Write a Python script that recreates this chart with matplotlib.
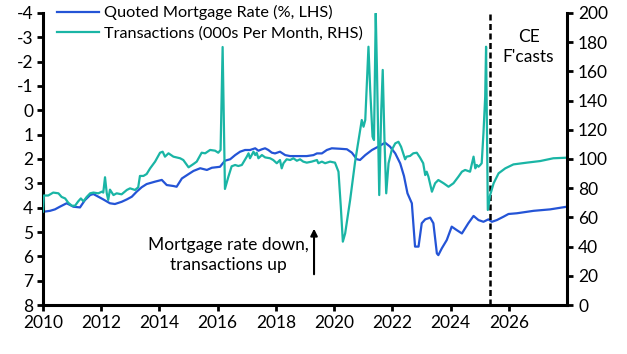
import matplotlib
matplotlib.use("Agg")
import matplotlib.pyplot as plt

plt.rcParams['font.family'] = ['Lato', 'DejaVu Sans']
plt.rcParams['font.size'] = 12.5
plt.rcParams['axes.unicode_minus'] = False

# quoted mortgage rate, % (LHS, inverted)
rate_x = [2010.0, 2010.24, 2010.41, 2010.58, 2010.81, 2010.93, 2011.04, 2011.27, 2011.44, 2011.62,
          2011.73, 2011.90, 2012.07, 2012.30, 2012.47, 2012.70, 2012.88, 2013.05, 2013.22, 2013.39,
          2013.56, 2013.85, 2014.08, 2014.25, 2014.48, 2014.59, 2014.77, 2015.0, 2015.17, 2015.40,
          2015.63, 2015.80, 2016.08, 2016.25, 2016.43, 2016.60, 2016.77, 2016.94, 2017.11, 2017.29,
          2017.40, 2017.52, 2017.63, 2017.74, 2017.86, 2017.97, 2018.14, 2018.32, 2018.49, 2018.83,
          2019.06, 2019.29, 2019.41, 2019.58, 2019.75, 2019.92, 2020.21, 2020.44, 2020.61, 2020.78,
          2020.89, 2021.07, 2021.30, 2021.52, 2021.75, 2021.92, 2022.10, 2022.27, 2022.40, 2022.52,
          2022.67, 2022.78, 2022.90, 2023.01, 2023.13, 2023.30, 2023.41, 2023.53, 2023.58, 2023.70,
          2023.87, 2024.04, 2024.21, 2024.39, 2024.50, 2024.61, 2024.79, 2024.96, 2025.13, 2025.30,
          2025.42, 2025.59, 2025.82, 2025.99, 2026.28, 2026.85, 2027.42, 2028.0]
rate = [4.17, 4.13, 4.07, 3.96, 3.82, 3.89, 3.96, 3.99, 3.69, 3.48,
        3.44, 3.55, 3.66, 3.82, 3.85, 3.76, 3.66, 3.55, 3.34, 3.16,
        3.03, 2.93, 2.86, 3.07, 3.11, 3.14, 2.80, 2.62, 2.49, 2.38,
        2.45, 2.36, 2.32, 2.07, 2.01, 1.84, 1.70, 1.63, 1.63, 1.56,
        1.66, 1.60, 1.56, 1.63, 1.74, 1.77, 1.70, 1.84, 1.88, 1.88,
        1.88, 1.84, 1.77, 1.77, 1.63, 1.56, 1.58, 1.60, 1.74, 2.01,
        2.04, 1.84, 1.63, 1.49, 1.33, 1.49, 1.77, 2.18, 2.70, 3.41,
        3.82, 5.60, 5.60, 4.64, 4.48, 4.41, 4.64, 5.88, 5.95, 5.67,
        5.33, 4.78, 4.92, 5.06, 4.85, 4.64, 4.34, 4.51, 4.58, 4.48,
        4.58, 4.51, 4.37, 4.26, 4.23, 4.13, 4.07, 3.96]

# transactions, 000s per month (RHS)
trans_x = [2010.0, 2010.03, 2010.18, 2010.35, 2010.53, 2010.64, 2010.76, 2010.87, 2010.99, 2011.10,
           2011.21, 2011.30, 2011.39, 2011.50, 2011.62, 2011.73, 2011.90, 2012.02, 2012.07, 2012.13,
           2012.19, 2012.24, 2012.30, 2012.42, 2012.53, 2012.70, 2012.88, 2012.99, 2013.16, 2013.27,
           2013.33, 2013.45, 2013.56, 2013.68, 2013.85, 2014.02, 2014.11, 2014.19, 2014.31, 2014.48,
           2014.71, 2014.82, 2015.0, 2015.17, 2015.28, 2015.45, 2015.57, 2015.74, 2015.91, 2016.02,
           2016.10, 2016.17, 2016.25, 2016.37, 2016.48, 2016.60, 2016.71, 2016.83, 2017.0, 2017.06,
           2017.11, 2017.23, 2017.29, 2017.34, 2017.40, 2017.52, 2017.63, 2017.80, 2017.91, 2018.03,
           2018.14, 2018.20, 2018.26, 2018.37, 2018.49, 2018.60, 2018.72, 2018.83, 2018.94, 2019.06,
           2019.23, 2019.41, 2019.46, 2019.58, 2019.69, 2019.86, 2020.03, 2020.15, 2020.23, 2020.30,
           2020.38, 2020.55, 2020.72, 2020.84, 2020.95, 2021.01, 2021.07, 2021.18, 2021.24, 2021.32,
           2021.37, 2021.43, 2021.47, 2021.55, 2021.62, 2021.67, 2021.73, 2021.79, 2021.87, 2021.98,
           2022.10, 2022.21, 2022.30, 2022.44, 2022.49, 2022.61, 2022.72, 2022.84, 2022.95, 2023.06,
           2023.13, 2023.18, 2023.24, 2023.36, 2023.47, 2023.58, 2023.76, 2023.93, 2024.10, 2024.27,
           2024.39, 2024.50, 2024.67, 2024.79, 2024.85, 2024.90, 2024.96, 2025.02, 2025.07, 2025.13,
           2025.19, 2025.22, 2025.28, 2025.36, 2025.48, 2025.65, 2025.88, 2026.16, 2026.62, 2027.08,
           2027.53, 2028.0]
trans = [64, 75, 75, 77, 76.5, 74, 73, 70, 68, 68,
         71, 73, 71, 74, 76.5, 77, 76.5, 77.6, 77, 87.5,
         76.5, 72, 79, 75.3, 76.5, 75.8, 78.8, 79.9, 78.8, 80.6,
         88.4, 88.4, 89.7, 93.6, 98.2, 104.3, 105, 101.6, 103.9, 101.6,
         100.5, 99.3, 94.3, 96.6, 98.2, 104.3, 103.9, 106.2, 105.7, 104.3,
         106.2, 176.7, 79.5, 88, 95, 95.9, 95.2, 95.9, 101.6, 103.9,
         100.5, 105, 102.7, 104.3, 100.5, 102.7, 101.1, 100.5, 99.3, 97.1,
         99.3, 93.6, 97.1, 99.8, 99.3, 100.5, 98.8, 99.8, 98.2, 97.5,
         98.2, 99.3, 97.1, 98.2, 97.1, 98.2, 97.5, 91.3, 67.3, 43.4,
         49.1, 71.9, 98, 113, 126.7, 122.1, 126.7, 176.9, 147.3, 115.3,
         113, 199.8, 163.2, 75.3, 133.6, 161, 113, 76.5, 97.1, 106.2,
         110.7, 111.8, 108.4, 99.8, 101.6, 102.1, 103.9, 104.3, 101, 97.1,
         89, 91.3, 87.9, 77.6, 83.4, 85.6, 83.4, 81, 83.4, 87.9,
         91.3, 92.5, 91.3, 101.6, 93.6, 95.9, 94.7, 95.9, 97.1, 117.6,
         142.7, 176.9, 65.1, 75.3, 83.4, 90.2, 93.6, 96.3, 97.5, 98.6,
         100.5, 100.9]

forecast_start = 2025.36
year_ticks = list(range(2010, 2027, 2))
lhs_ticks = list(range(-4, 9))
rhs_ticks = list(range(0, 201, 20))

blue = '#2454d6'
teal = '#1ab5a5'

fig = plt.figure(figsize=(6.27, 3.54), dpi=100)
ax = fig.add_axes([0.0686, 0.1384, 0.8357, 0.8249])
ax2 = ax.twinx()

ax.plot(rate_x, rate, color=blue, lw=1.6, label='Quoted Mortgage Rate (%, LHS)')
ax2.plot(trans_x, trans, color=teal, lw=1.6, label='Transactions (000s Per Month, RHS)')

ax.set_xlim(2010, 2028)
ax.set_ylim(8, -4)
ax2.set_ylim(0, 200)
ax.set_xticks(year_ticks)
ax.set_yticks(lhs_ticks)
ax2.set_yticks(rhs_ticks)

for s in ['top', 'right']:
    ax.spines[s].set_visible(False)
for s in ['top', 'left', 'bottom']:
    ax2.spines[s].set_visible(False)
for s in ['left', 'bottom']:
    ax.spines[s].set_linewidth(2.2)
ax2.spines['right'].set_linewidth(2.2)

ax.tick_params(axis='both', direction='out', length=4, width=2, pad=3, colors='black')
ax2.tick_params(axis='y', direction='out', length=4, width=2, pad=4, colors='black')

ax.axvline(forecast_start, color='black', lw=1.8, ls=(0, (2.4, 1.4)))

ax2.text(2026.68, 176.5, "CE\nF'casts", ha='center', va='center', linespacing=1.3)
ax.text(2016.37, 5.93, "Mortgage rate down,\ntransactions up", ha='center', va='center',
        linespacing=1.3)
ax.annotate('', xy=(2019.31, 4.75), xytext=(2019.31, 6.85),
            arrowprops=dict(arrowstyle='-|>', color='black', lw=1.5, mutation_scale=10))

handles = ax.get_lines()[:1] + ax2.get_lines()[:1]
ax2.legend(handles=handles, loc='upper left', bbox_to_anchor=(0.0909, 0.985),
           bbox_transform=fig.transFigure, frameon=False, borderpad=0, borderaxespad=0,
           handlelength=2.6, handletextpad=0.3, labelspacing=0.38, fontsize=11.7)

fig.savefig('out.png', dpi=100)
